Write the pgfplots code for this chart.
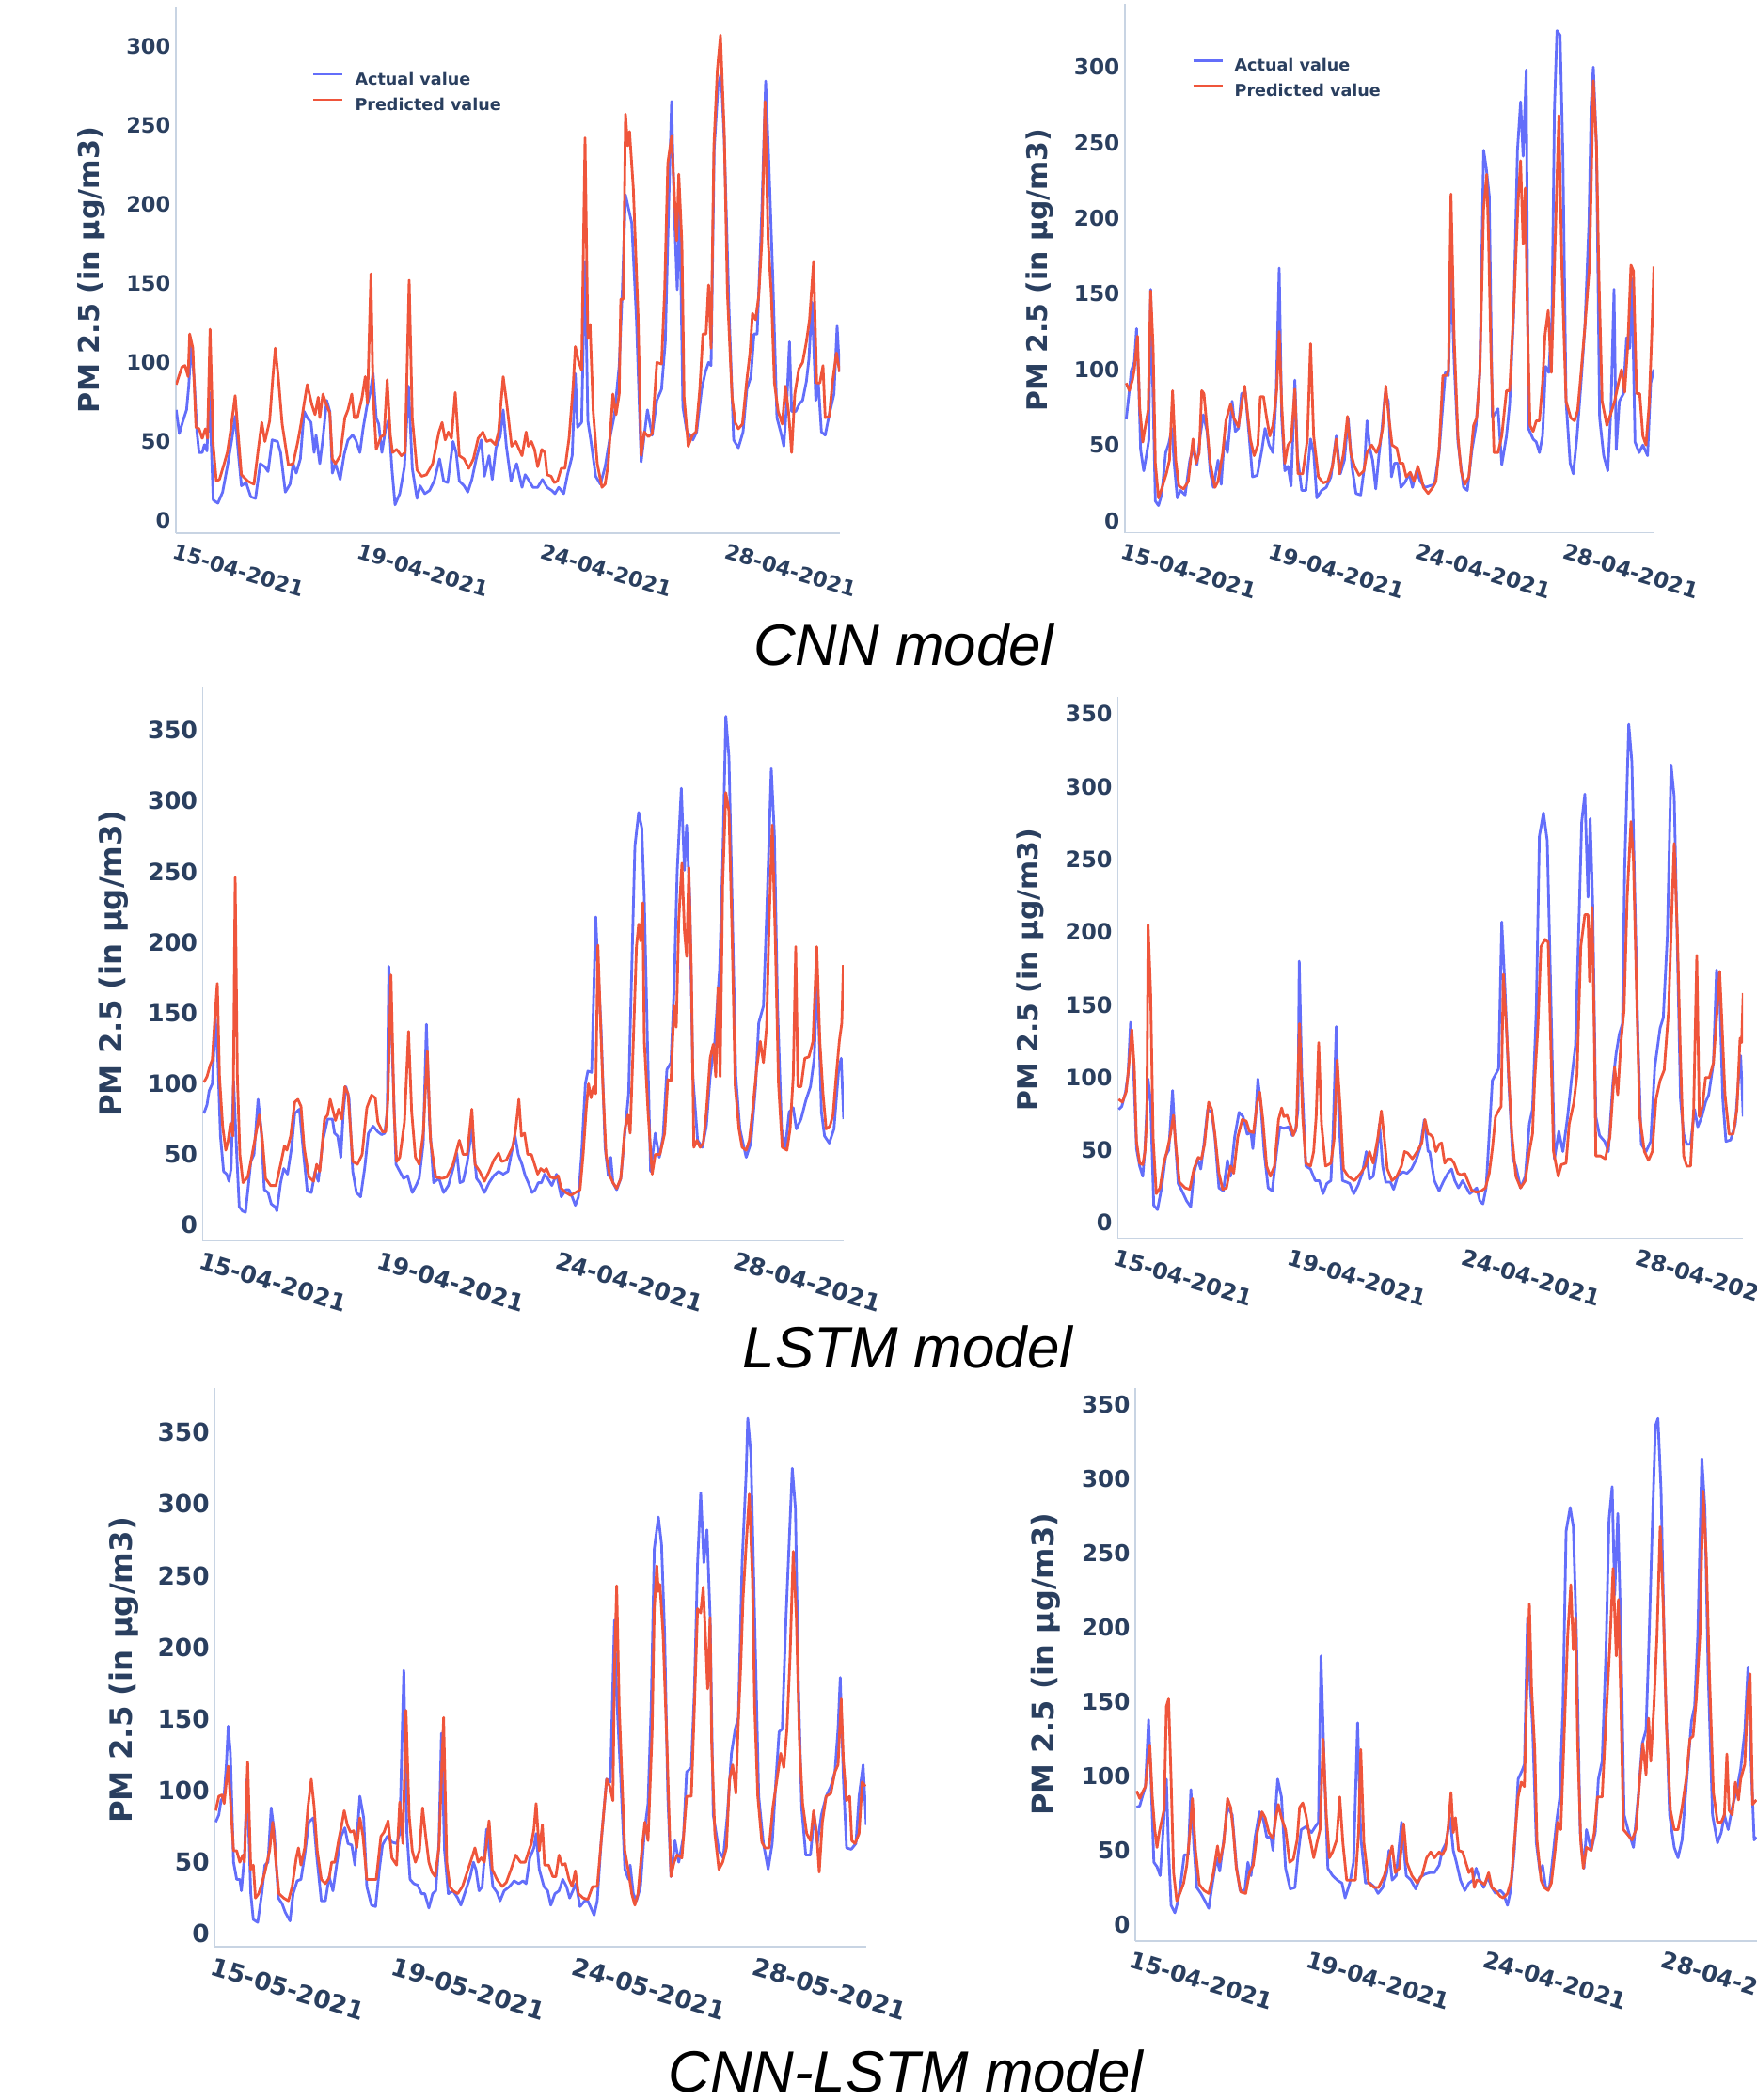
\documentclass[border=0pt]{standalone}
\usepackage{fontspec}
\setmainfont{DejaVu Sans}
\newfontfamily\titlefont{Liberation Sans}
\usepackage{pgfplots}
\pgfplotsset{compat=1.18}

\definecolor{cAct}{HTML}{636EFA}
\definecolor{cPred}{HTML}{EF553B}
\definecolor{axcol}{HTML}{C8D4E3}
\definecolor{txt}{HTML}{2A3F5F}

\pgfplotsset{
  act/.style={color=cAct, line width=0.8pt, line join=round},
  prd/.style={color=cPred, line width=0.8pt, line join=round},
  panel/.style={
    scale only axis, anchor=south west,
    axis x line*=bottom, axis y line*=left,
    axis line style={draw=axcol, line width=0.45pt},
    major tick length=0pt,
    ytick={0,50,...,350},
    /pgf/number format/assume math mode=true,
    tick label style={text=txt, font=\fontsize{#1pt}{#1pt}\selectfont\bfseries},
    xticklabel style={rotate=-17, anchor=north west, inner sep=0pt, yshift=-0.1cm},
    yticklabel style={anchor=east, inner sep=0pt, xshift=-0.05cm},
    legend cell align=left,
    legend image code/.code={\draw[##1, line width=0.6pt] (0cm,0.065cm) -- (0.31cm,0.065cm);},
  },
  lgd/.style={legend style={at={#1}, anchor=north west, draw=none, fill=none,
    inner sep=0pt, row sep=0.11cm, text=txt,
    font=\fontsize{5pt}{6pt}\selectfont\bfseries,
    nodes={inner sep=0pt, text height=0.13cm, text depth=0.03cm},
    /tikz/every odd column/.append style={column sep=0.12cm}}},
}
\newcommand{\ylab}[2]{\node[rotate=90, text=txt, font=\fontsize{#2pt}{#2pt}\selectfont\bfseries] at #1 {PM 2.5 (in µg/m3)};}
\newcommand{\ttl}[2]{\node[anchor=base, font=\fontsize{17.6pt}{20pt}\selectfont\titlefont\itshape] at #1 {#2};}

\begin{document}
\begin{tikzpicture}
\useasboundingbox (0,0) rectangle (18.68,22.33);
\clip (0,0) rectangle (18.68,22.33);

% ---------------- CNN, left
\begin{axis}[panel=6.4, at={(1.87cm,16.66cm)}, width=7.06cm, height=5.60cm,
  xmin=21, xmax=2139, ymin=-8, ymax=325,
  xtick={30,618,1203,1791}, xticklabels={15-04-2021,19-04-2021,24-04-2021,28-04-2021},
  lgd={(0.205,0.875)}]
\addplot[act] coordinates {(22,70) (32,55) (42,62) (55,70) (62,85) (70,112) (80,87) (88,56) (95,43) (105,43) (112,48) (120,44) (128,81) (140,13) (155,11) (170,18) (185,34) (200,52) (210,66) (220,43) (230,22) (245,24) (260,15) (275,14) (290,36) (305,34) (315,31) (328,51) (345,50) (355,43) (370,18) (385,23) (395,36) (405,30) (418,39) (430,69) (440,65) (452,62) (462,43) (468,54) (480,36) (490,52) (502,76) (512,69) (520,30) (530,36) (545,26) (558,42) (570,51) (585,54) (595,51) (608,43) (618,58) (630,72) (640,80) (650,93) (660,65) (668,61) (678,43) (690,58) (700,64) (710,33) (720,10) (735,17) (750,34) (763,85) (775,33) (790,14) (800,22) (815,17) (830,19) (845,25) (862,39) (875,25) (888,24) (905,50) (915,43) (925,25) (940,22) (952,18) (965,26) (980,40) (995,51) (1005,28) (1020,41) (1030,26) (1042,46) (1055,53) (1065,70) (1075,47) (1090,25) (1100,32) (1108,36) (1125,21) (1135,29) (1145,26) (1160,21) (1175,21) (1190,26) (1205,21) (1220,19) (1230,17) (1242,21) (1258,17) (1270,29) (1285,41) (1295,93) (1302,59) (1315,62) (1326,164) (1335,63) (1345,50) (1360,28) (1375,23) (1390,34) (1405,52) (1420,67) (1435,98) (1445,146) (1455,206) (1465,197) (1475,188) (1490,127) (1505,37) (1515,54) (1525,70) (1540,54) (1555,76) (1570,83) (1582,113) (1592,193) (1602,265) (1610,199) (1620,146) (1628,199) (1638,72) (1650,57) (1670,51) (1682,56) (1698,83) (1710,94) (1720,100) (1728,98) (1738,235) (1750,274) (1760,283) (1770,241) (1785,135) (1800,51) (1815,46) (1830,56) (1842,83) (1855,91) (1865,118) (1875,118) (1890,197) (1902,278) (1912,228) (1925,153) (1938,65) (1950,56) (1960,47) (1970,76) (1978,113) (1985,69) (1998,69) (2010,74) (2020,76) (2032,88) (2040,102) (2050,138) (2062,76) (2070,87) (2080,56) (2092,54) (2105,67) (2120,80) (2130,123) (2138,94)};
\addlegendentry{Actual value}
\addplot[prd] coordinates {(22,86) (40,97) (50,98) (60,91) (65,118) (75,109) (85,59) (95,58) (105,52) (115,58) (122,52) (130,121) (140,48) (150,25) (160,26) (175,36) (185,43) (195,56) (210,79) (220,54) (230,29) (250,25) (270,23) (285,47) (295,62) (305,50) (320,63) (330,90) (338,109) (348,90) (360,61) (380,35) (395,36) (410,50) (420,61) (430,74) (440,86) (455,73) (465,67) (475,78) (480,65) (490,80) (500,74) (512,68) (520,39) (530,36) (545,41) (560,65) (570,70) (582,80) (590,65) (600,65) (615,78) (625,91) (632,74) (643,156) (650,80) (660,45) (675,53) (685,54) (695,89) (705,54) (712,43) (725,45) (740,41) (752,43) (765,152) (775,65) (790,32) (805,28) (820,29) (840,36) (860,56) (870,62) (880,51) (890,56) (900,52) (912,81) (925,41) (940,39) (955,33) (970,39) (985,52) (1000,56) (1012,50) (1025,51) (1040,48) (1050,56) (1065,91) (1075,76) (1092,47) (1105,50) (1125,41) (1138,56) (1145,47) (1155,50) (1165,45) (1175,34) (1188,45) (1198,43) (1205,29) (1218,28) (1228,24) (1238,25) (1250,33) (1262,33) (1275,52) (1288,85) (1295,110) (1305,101) (1315,95) (1326,242) (1335,115) (1342,124) (1352,69) (1365,36) (1380,21) (1390,23) (1400,36) (1415,80) (1425,67) (1435,80) (1440,140) (1448,140) (1455,257) (1462,237) (1468,246) (1480,210) (1495,131) (1505,41) (1515,56) (1528,53) (1540,55) (1555,100) (1570,99) (1580,146) (1590,226) (1602,243) (1610,210) (1618,177) (1625,219) (1635,175) (1642,78) (1655,47) (1668,54) (1680,56) (1692,83) (1702,118) (1712,118) (1720,149) (1728,109) (1737,237) (1748,285) (1758,307) (1770,246) (1780,144) (1795,78) (1805,62) (1815,58) (1828,61) (1842,89) (1852,106) (1860,131) (1870,127) (1880,142) (1890,177) (1900,265) (1910,177) (1920,144) (1930,87) (1942,69) (1955,61) (1965,85) (1975,69) (1985,43) (1995,80) (2008,96) (2020,100) (2032,113) (2042,127) (2055,164) (2065,87) (2075,87) (2085,98) (2092,65) (2105,66) (2115,87) (2128,106) (2138,94)};
\addlegendentry{Predicted value}
\end{axis}

% ---------------- CNN, right
\begin{axis}[panel=6.6, at={(11.96cm,16.663cm)}, width=5.62cm, height=5.63cm,
  xmin=48, xmax=1734, ymin=-8.1, ymax=342,
  xtick={54,525,993,1464}, xticklabels={15-04-2021,19-04-2021,24-04-2021,28-04-2021},
  lgd={(0.126,0.896)}]
\addplot[act] coordinates {(52,67) (62,86) (68,99) (78,105) (85,127) (92,91) (98,47) (108,33) (118,45) (124,53) (130,153) (138,79) (145,13) (155,10) (165,17) (178,45) (188,51) (198,61) (205,38) (215,15) (225,20) (240,17) (255,40) (265,47) (278,37) (288,56) (298,70) (310,59) (320,32) (330,22) (345,40) (355,24) (365,54) (375,45) (380,56) (390,79) (400,59) (410,61) (420,84) (432,85) (445,54) (455,29) (470,30) (485,47) (495,61) (508,50) (520,45) (530,81) (540,167) (548,68) (558,33) (568,36) (578,23) (590,93) (598,43) (612,20) (625,20) (640,54) (650,45) (660,15) (675,20) (690,22) (705,29) (722,56) (735,31) (748,40) (760,68) (772,36) (785,18) (800,17) (812,36) (820,66) (830,47) (838,40) (848,21) (858,43) (868,61) (878,84) (888,79) (898,29) (908,38) (918,38) (928,22) (940,25) (955,31) (965,22) (978,33) (990,26) (1005,22) (1020,23) (1035,24) (1050,45) (1062,77) (1070,98) (1080,96) (1088,165) (1098,105) (1110,52) (1128,22) (1140,20) (1155,47) (1168,63) (1180,98) (1192,245) (1200,234) (1210,215) (1220,68) (1238,74) (1250,37) (1265,56) (1275,77) (1288,137) (1300,245) (1310,277) (1318,241) (1328,298) (1335,61) (1350,54) (1360,52) (1370,45) (1380,56) (1390,102) (1400,98) (1410,135) (1418,273) (1426,324) (1436,321) (1445,241) (1455,79) (1468,38) (1478,31) (1490,56) (1502,89) (1515,128) (1528,197) (1535,275) (1542,300) (1552,248) (1562,68) (1575,43) (1588,33) (1598,73) (1608,153) (1615,47) (1625,79) (1638,84) (1648,121) (1658,114) (1665,160) (1675,52) (1688,45) (1700,50) (1715,43) (1725,91) (1735,100)};
\addlegendentry{Actual value}
\addplot[prd] coordinates {(52,91) (62,86) (72,93) (78,100) (88,122) (95,75) (100,64) (105,52) (112,61) (122,73) (130,152) (138,114) (145,38) (155,15) (165,21) (180,31) (190,40) (200,86) (210,40) (220,23) (235,21) (250,26) (265,54) (275,38) (285,45) (293,86) (300,84) (310,61) (320,38) (335,22) (345,26) (360,45) (370,66) (385,77) (395,68) (410,62) (420,77) (430,89) (438,73) (448,54) (460,43) (472,50) (480,82) (490,82) (500,68) (510,56) (520,63) (532,86) (540,125) (548,77) (558,38) (568,50) (578,53) (590,87) (600,31) (615,31) (630,54) (640,117) (650,56) (665,29) (680,25) (695,26) (710,36) (722,54) (732,31) (745,44) (758,69) (768,45) (780,36) (795,30) (810,33) (820,45) (835,50) (850,45) (860,50) (870,61) (880,89) (890,68) (900,50) (915,48) (925,38) (935,38) (945,29) (958,32) (970,26) (982,36) (992,29) (1000,22) (1015,18) (1030,22) (1040,26) (1050,47) (1062,96) (1075,96) (1080,100) (1088,216) (1098,121) (1110,56) (1120,33) (1132,24) (1145,29) (1160,63) (1170,68) (1180,98) (1192,206) (1202,229) (1208,185) (1215,114) (1225,45) (1238,45) (1250,56) (1265,86) (1275,86) (1290,149) (1302,211) (1310,238) (1318,183) (1325,220) (1332,132) (1340,63) (1350,59) (1360,66) (1370,66) (1380,91) (1388,123) (1398,139) (1408,98) (1420,183) (1432,268) (1442,165) (1455,79) (1470,68) (1482,66) (1492,73) (1502,96) (1515,128) (1530,169) (1542,291) (1552,248) (1560,160) (1570,79) (1585,63) (1598,71) (1610,79) (1622,91) (1632,100) (1642,85) (1652,116) (1662,169) (1670,165) (1680,84) (1690,84) (1700,56) (1710,50) (1720,77) (1728,121) (1735,168)};
\addlegendentry{Predicted value}
\end{axis}

% ---------------- LSTM, left
\begin{axis}[panel=7.2, at={(2.157cm,9.133cm)}, width=6.813cm, height=5.897cm,
  xmin=32, xmax=2076, ymin=-11.3, ymax=381,
  xtick={39,606,1176,1743}, xticklabels={15-04-2021,19-04-2021,24-04-2021,28-04-2021}]
\addplot[act] coordinates {(35,79) (45,85) (52,95) (62,100) (72,146) (80,115) (88,63) (98,38) (108,36) (115,31) (122,40) (130,102) (140,50) (148,13) (158,10) (168,9) (178,30) (185,45) (195,50) (208,89) (218,68) (228,25) (240,23) (250,15) (262,13) (268,10) (280,30) (290,40) (302,36) (315,55) (325,79) (340,82) (352,53) (365,24) (378,23) (390,38) (400,31) (415,60) (430,75) (445,75) (452,65) (462,63) (472,48) (480,80) (488,98) (498,90) (510,38) (522,23) (535,20) (548,40) (560,65) (575,70) (590,66) (602,64) (612,65) (620,80) (625,183) (635,130) (648,43) (660,38) (672,33) (685,35) (700,23) (712,28) (722,33) (735,58) (745,142) (755,73) (768,30) (785,33) (800,23) (815,28) (830,40) (842,51) (852,30) (862,31) (875,44) (890,68) (905,33) (915,30) (930,23) (945,30) (960,35) (975,38) (990,36) (1005,38) (1020,55) (1028,63) (1038,50) (1050,43) (1060,35) (1070,30) (1082,23) (1092,25) (1102,30) (1112,30) (1122,36) (1132,33) (1145,28) (1160,36) (1175,20) (1190,25) (1200,25) (1210,20) (1220,14) (1230,20) (1240,50) (1252,100) (1260,109) (1272,108) (1285,218) (1292,183) (1302,140) (1315,55) (1325,35) (1333,48) (1340,30) (1352,25) (1365,33) (1378,65) (1390,93) (1400,181) (1410,268) (1422,292) (1432,281) (1440,231) (1450,130) (1460,38) (1475,65) (1488,48) (1500,63) (1512,110) (1525,115) (1535,168) (1545,251) (1558,309) (1568,251) (1575,283) (1585,231) (1595,105) (1610,60) (1625,55) (1638,70) (1650,105) (1665,130) (1680,181) (1690,256) (1700,360) (1710,331) (1720,231) (1732,105) (1745,68) (1765,48) (1780,58) (1795,98) (1805,143) (1820,155) (1830,218) (1845,323) (1855,276) (1865,155) (1878,68) (1890,55) (1902,80) (1915,83) (1925,68) (1940,75) (1955,88) (1970,98) (1982,118) (1992,176) (2005,80) (2015,63) (2030,58) (2045,68) (2060,110) (2068,118) (2076,75)};
\addplot[prd] coordinates {(35,101) (45,105) (55,113) (62,117) (70,146) (78,171) (85,105) (95,70) (105,53) (112,59) (120,72) (128,63) (135,246) (142,105) (150,50) (160,30) (175,34) (185,45) (200,63) (212,78) (222,60) (232,33) (248,28) (265,28) (280,43) (292,56) (300,53) (312,63) (325,87) (335,89) (345,84) (355,55) (370,34) (385,31) (395,43) (405,38) (420,75) (430,78) (438,89) (445,83) (455,74) (465,82) (475,75) (485,98) (495,93) (510,45) (525,43) (540,50) (555,83) (570,92) (582,90) (590,73) (605,66) (615,66) (622,88) (632,177) (642,80) (650,45) (660,48) (675,73) (688,137) (698,80) (710,48) (722,43) (735,65) (748,123) (758,60) (775,34) (795,33) (810,34) (830,43) (850,60) (862,50) (875,50) (890,82) (900,43) (915,38) (930,31) (945,38) (960,46) (975,51) (985,45) (1000,46) (1015,53) (1020,55) (1030,68) (1040,89) (1048,63) (1058,65) (1068,50) (1080,50) (1090,43) (1100,36) (1110,40) (1120,38) (1128,40) (1140,34) (1155,33) (1165,35) (1175,26) (1190,23) (1205,21) (1220,23) (1235,25) (1245,50) (1255,83) (1262,100) (1270,90) (1278,98) (1285,93) (1292,198) (1300,146) (1308,98) (1318,50) (1330,35) (1340,30) (1352,26) (1365,33) (1378,68) (1388,78) (1395,65) (1405,130) (1415,197) (1422,213) (1428,201) (1435,228) (1440,130) (1452,80) (1465,36) (1475,50) (1490,50) (1505,65) (1515,103) (1525,102) (1535,155) (1542,140) (1550,216) (1560,256) (1568,208) (1575,190) (1582,253) (1590,181) (1598,55) (1608,60) (1618,55) (1628,58) (1638,80) (1650,118) (1660,128) (1668,105) (1675,168) (1682,105) (1690,241) (1700,306) (1710,293) (1720,206) (1730,98) (1742,68) (1752,55) (1765,53) (1775,60) (1785,80) (1798,110) (1810,130) (1820,115) (1830,140) (1838,213) (1848,283) (1858,201) (1868,100) (1880,55) (1895,53) (1905,68) (1915,105) (1923,197) (1930,98) (1940,98) (1952,118) (1965,119) (1978,130) (1990,197) (2000,130) (2010,93) (2020,68) (2032,70) (2042,78) (2052,105) (2062,130) (2070,143) (2075,184)};
\end{axis}

% ---------------- LSTM, right
\begin{axis}[panel=6.8, at={(11.883cm,9.159cm)}, width=6.647cm, height=5.764cm,
  xmin=25, xmax=2019, ymin=-10.9, ymax=362,
  xtick={30,585,1140,1695}, xticklabels={15-04-2021,19-04-2021,24-04-2021,28-04-2021}]
\addplot[act] coordinates {(28,78) (38,80) (50,90) (58,102) (66,138) (75,110) (85,51) (95,39) (105,32) (112,51) (122,99) (130,83) (140,12) (152,9) (165,24) (178,46) (188,50) (200,91) (208,59) (218,27) (230,22) (245,15) (258,11) (268,34) (280,44) (290,37) (300,54) (312,78) (325,76) (335,59) (348,24) (362,22) (375,43) (385,32) (398,59) (412,76) (425,73) (438,61) (450,62) (456,51) (465,73) (472,99) (482,80) (492,49) (505,24) (518,22) (532,49) (542,66) (555,65) (570,66) (582,60) (592,63) (600,78) (604,180) (612,102) (625,39) (640,37) (655,29) (668,29) (680,20) (692,27) (705,29) (712,63) (722,135) (730,73) (742,29) (755,28) (765,27) (778,20) (792,26) (805,34) (818,49) (828,30) (840,32) (852,49) (860,68) (870,39) (880,28) (895,28) (905,23) (918,32) (935,35) (948,34) (962,37) (978,44) (990,52) (1003,71) (1015,49) (1020,49) (1035,29) (1050,22) (1065,29) (1078,34) (1090,37) (1100,29) (1112,24) (1125,29) (1138,24) (1148,20) (1160,22) (1170,24) (1180,15) (1190,13) (1200,24) (1210,61) (1220,98) (1230,102) (1240,106) (1250,207) (1260,163) (1272,98) (1285,44) (1295,39) (1310,24) (1325,32) (1338,68) (1348,78) (1360,146) (1370,266) (1383,282) (1395,263) (1405,171) (1418,44) (1432,63) (1445,49) (1460,73) (1472,98) (1485,122) (1505,276) (1515,295) (1525,224) (1532,278) (1540,220) (1550,73) (1562,60) (1578,56) (1590,49) (1605,98) (1615,117) (1625,130) (1635,137) (1642,244) (1655,343) (1665,317) (1675,220) (1685,122) (1695,54) (1710,49) (1725,56) (1738,107) (1755,134) (1765,141) (1778,197) (1790,315) (1800,293) (1810,190) (1820,85) (1830,61) (1840,54) (1852,54) (1865,78) (1875,66) (1888,73) (1900,83) (1910,88) (1925,110) (1935,174) (1945,156) (1955,85) (1965,56) (1980,57) (1995,68) (2005,98) (2012,115) (2020,73)};
\addplot[prd] coordinates {(28,85) (40,83) (52,90) (60,107) (70,133) (78,107) (85,56) (95,41) (105,40) (112,49) (118,73) (122,205) (130,159) (138,59) (148,20) (160,24) (172,41) (182,49) (192,59) (203,74) (210,54) (222,28) (240,24) (255,23) (268,37) (282,45) (292,44) (302,54) (315,83) (325,78) (335,61) (348,34) (360,23) (372,24) (385,39) (395,34) (408,59) (422,71) (435,70) (445,63) (458,62) (470,83) (478,90) (488,71) (500,39) (512,32) (525,39) (538,71) (548,79) (555,73) (565,74) (578,66) (585,60) (595,66) (605,137) (615,73) (625,41) (640,39) (650,49) (658,73) (666,124) (675,68) (688,39) (705,41) (715,57) (725,112) (735,78) (745,37) (760,32) (780,29) (800,34) (815,39) (828,49) (840,41) (855,59) (866,77) (875,59) (885,37) (900,29) (915,32) (930,39) (940,49) (950,48) (965,44) (980,49) (995,55) (1005,71) (1015,61) (1020,61) (1030,59) (1040,49) (1050,54) (1058,55) (1068,41) (1078,44) (1088,44) (1098,41) (1110,34) (1120,33) (1132,34) (1145,27) (1155,22) (1170,21) (1185,22) (1198,24) (1210,34) (1220,51) (1230,73) (1242,78) (1248,80) (1255,171) (1265,134) (1272,102) (1282,61) (1295,32) (1310,24) (1325,29) (1338,49) (1348,61) (1355,98) (1365,134) (1375,190) (1388,195) (1398,193) (1405,134) (1415,49) (1430,32) (1440,40) (1455,41) (1465,68) (1480,83) (1490,102) (1502,190) (1515,212) (1525,212) (1530,166) (1538,217) (1545,132) (1550,46) (1565,46) (1580,44) (1595,59) (1610,107) (1620,88) (1630,124) (1640,146) (1650,224) (1662,276) (1670,249) (1680,158) (1690,73) (1705,49) (1718,43) (1730,49) (1742,85) (1755,98) (1768,105) (1782,146) (1792,212) (1800,261) (1810,199) (1820,114) (1830,46) (1840,39) (1852,39) (1862,78) (1872,184) (1880,73) (1890,80) (1900,100) (1912,100) (1925,110) (1938,149) (1945,173) (1952,139) (1962,88) (1975,61) (1988,61) (2000,78) (2010,127) (2015,124) (2020,158)};
\end{axis}

% ---------------- CNN-LSTM, left
\begin{axis}[panel=7.5, at={(2.283cm,1.63cm)}, width=6.927cm, height=5.94cm,
  xmin=25, xmax=2103, ymin=-9, ymax=381,
  xtick={32,609,1185,1761}, xticklabels={15-05-2021,19-05-2021,24-05-2021,28-05-2021}]
\addplot[act] coordinates {(28,78) (38,83) (45,93) (55,97) (62,118) (68,145) (75,126) (85,50) (95,38) (105,38) (110,30) (120,55) (128,108) (140,28) (148,10) (162,8) (175,28) (185,48) (195,50) (205,88) (215,71) (228,25) (240,21) (250,15) (265,9) (275,28) (288,37) (300,38) (312,55) (325,78) (340,81) (350,55) (365,23) (378,23) (390,40) (402,30) (415,50) (428,68) (440,74) (450,63) (462,62) (472,48) (488,96) (500,81) (510,33) (525,20) (538,19) (550,45) (560,62) (575,68) (590,64) (605,63) (615,70) (622,133) (628,184) (638,70) (648,38) (660,35) (672,34) (685,28) (695,28) (708,18) (720,28) (730,30) (740,63) (748,140) (758,58) (770,28) (785,30) (800,25) (810,20) (825,30) (840,40) (850,50) (858,45) (868,30) (878,33) (892,73) (900,58) (912,33) (925,29) (935,23) (948,30) (965,33) (980,37) (995,35) (1008,37) (1018,35) (1030,53) (1043,60) (1050,70) (1060,45) (1075,33) (1087,30) (1097,20) (1110,28) (1123,30) (1135,38) (1147,33) (1157,25) (1167,30) (1177,35) (1190,19) (1205,23) (1215,23) (1225,18) (1235,13) (1245,23) (1257,63) (1275,108) (1287,106) (1300,219) (1307,166) (1320,108) (1333,45) (1345,38) (1350,48) (1360,28) (1370,23) (1383,33) (1395,70) (1407,91) (1417,159) (1427,269) (1440,291) (1450,272) (1460,209) (1470,96) (1480,40) (1493,65) (1505,50) (1520,68) (1530,113) (1545,116) (1555,171) (1565,259) (1575,308) (1585,259) (1595,282) (1605,221) (1615,83) (1633,58) (1647,53) (1660,83) (1673,126) (1685,143) (1695,151) (1707,259) (1720,322) (1725,360) (1735,335) (1747,221) (1760,96) (1775,63) (1790,45) (1803,63) (1815,108) (1825,141) (1835,143) (1847,221) (1867,325) (1877,297) (1887,171) (1897,88) (1910,55) (1925,55) (1937,83) (1947,63) (1960,83) (1975,96) (1990,103) (2003,113) (2013,143) (2020,179) (2030,108) (2040,60) (2055,59) (2070,63) (2080,96) (2093,118) (2103,76)};
\addplot[prd] coordinates {(28,86) (38,96) (48,97) (55,91) (62,106) (68,117) (78,83) (85,58) (95,58) (105,50) (115,55) (120,50) (130,120) (140,45) (148,48) (155,25) (165,28) (175,35) (185,43) (200,58) (210,78) (220,50) (230,28) (245,25) (260,23) (272,33) (285,53) (292,60) (300,48) (312,60) (322,88) (333,108) (342,89) (352,58) (365,38) (378,35) (390,39) (398,50) (408,50) (420,65) (430,76) (438,86) (448,76) (458,71) (468,72) (478,60) (488,81) (498,68) (510,38) (525,38) (540,38) (555,68) (565,71) (578,79) (590,53) (605,48) (615,92) (625,63) (635,156) (645,83) (655,58) (665,50) (678,58) (688,88) (698,68) (708,50) (718,43) (728,40) (740,60) (755,151) (765,50) (775,33) (785,30) (800,28) (815,33) (830,43) (845,53) (855,60) (865,50) (875,53) (885,50) (900,79) (910,45) (925,38) (942,33) (955,36) (970,45) (985,55) (1000,50) (1015,50) (1030,60) (1035,63) (1043,73) (1050,91) (1060,58) (1070,76) (1077,48) (1090,48) (1103,40) (1113,40) (1123,55) (1133,48) (1143,49) (1155,38) (1165,33) (1175,44) (1185,28) (1200,25) (1215,24) (1230,33) (1245,33) (1255,58) (1265,83) (1275,108) (1285,103) (1295,93) (1300,184) (1307,243) (1315,159) (1323,113) (1333,58) (1345,43) (1355,28) (1365,20) (1375,28) (1387,58) (1397,78) (1407,65) (1420,141) (1427,227) (1435,257) (1440,239) (1445,244) (1455,209) (1467,133) (1480,40) (1490,50) (1500,55) (1515,53) (1530,96) (1545,96) (1555,159) (1565,227) (1575,224) (1583,242) (1590,209) (1597,171) (1605,221) (1610,133) (1620,70) (1633,45) (1645,50) (1657,60) (1667,108) (1677,118) (1687,98) (1695,148) (1703,189) (1710,234) (1720,272) (1730,307) (1740,247) (1747,159) (1757,96) (1770,64) (1780,60) (1793,60) (1805,88) (1817,106) (1830,126) (1840,116) (1850,143) (1860,194) (1870,267) (1880,221) (1890,133) (1900,91) (1913,70) (1925,65) (1935,86) (1945,70) (1953,43) (1963,78) (1975,96) (1990,98) (2003,113) (2013,118) (2023,164) (2030,121) (2040,93) (2050,96) (2057,65) (2067,63) (2080,70) (2090,106) (2100,103)};
\end{axis}

% ---------------- CNN-LSTM, right
\begin{axis}[panel=7.0, at={(12.071cm,1.691cm)}, width=6.779cm, height=5.882cm,
  xmin=36, xmax=2070, ymin=-11, ymax=361.6,
  xtick={37,601,1165,1733}, xticklabels={15-04-2021,19-04-2021,24-04-2021,28-04-2021}]
\addplot[act] coordinates {(40,79) (50,80) (58,86) (68,93) (78,138) (85,103) (95,42) (105,39) (115,33) (122,55) (135,98) (142,50) (150,13) (162,8) (172,16) (182,30) (192,47) (205,47) (213,91) (222,55) (232,25) (245,21) (258,16) (270,11) (282,28) (295,45) (305,36) (315,52) (330,79) (345,74) (358,40) (370,23) (385,23) (395,42) (405,33) (418,59) (432,76) (445,70) (455,59) (468,59) (475,50) (482,74) (490,98) (502,86) (515,38) (530,24) (545,25) (555,47) (565,64) (580,66) (598,62) (610,66) (620,69) (628,181) (638,110) (650,38) (665,33) (680,30) (695,28) (705,18) (720,28) (732,42) (745,136) (755,59) (770,28) (785,28) (800,25) (810,21) (825,25) (838,35) (845,50) (855,30) (868,33) (885,69) (900,33) (915,30) (930,24) (945,32) (960,34) (975,35) (990,35) (1005,40) (1015,50) (1027,55) (1040,72) (1050,50) (1060,42) (1073,30) (1087,23) (1100,28) (1113,30) (1123,38) (1135,30) (1147,25) (1160,32) (1173,25) (1185,21) (1200,23) (1210,21) (1223,13) (1233,23) (1245,50) (1257,98) (1270,104) (1277,108) (1287,207) (1295,163) (1303,134) (1315,55) (1327,35) (1335,40) (1345,25) (1357,25) (1370,50) (1380,70) (1390,86) (1400,147) (1410,265) (1423,281) (1433,268) (1443,195) (1455,62) (1467,38) (1475,64) (1490,50) (1503,62) (1513,98) (1525,110) (1537,183) (1547,273) (1557,295) (1565,222) (1575,277) (1585,195) (1595,74) (1610,62) (1625,52) (1640,86) (1653,122) (1665,131) (1675,195) (1685,268) (1695,336) (1703,341) (1713,292) (1725,171) (1740,74) (1755,52) (1767,45) (1780,57) (1795,98) (1810,137) (1820,147) (1830,195) (1843,314) (1853,280) (1863,171) (1877,74) (1893,55) (1905,62) (1915,74) (1927,64) (1940,79) (1955,91) (1967,105) (1980,130) (1990,173) (2000,110) (2010,57) (2017,59)};
\addplot[prd] coordinates {(40,90) (50,85) (58,89) (68,93) (75,108) (82,121) (90,86) (98,64) (105,52) (112,62) (120,70) (128,78) (135,147) (142,152) (150,98) (158,35) (168,16) (178,21) (190,28) (200,40) (210,62) (218,85) (228,50) (240,27) (255,23) (270,21) (285,35) (298,53) (305,42) (318,55) (330,85) (340,79) (348,64) (358,38) (372,22) (388,21) (400,35) (412,40) (425,62) (440,76) (450,72) (462,62) (475,58) (485,73) (492,81) (502,72) (515,64) (528,42) (540,44) (552,57) (560,79) (570,82) (580,74) (592,59) (605,45) (615,55) (625,64) (635,125) (645,74) (655,45) (665,49) (678,57) (688,86) (698,55) (710,30) (725,30) (738,30) (748,62) (755,118) (765,55) (780,28) (798,25) (812,25) (830,33) (845,45) (855,53) (865,35) (878,38) (892,68) (902,42) (918,33) (935,28) (950,33) (965,45) (978,49) (990,45) (1005,49) (1015,47) (1025,51) (1033,64) (1043,89) (1050,62) (1057,72) (1067,50) (1080,49) (1090,42) (1100,35) (1110,38) (1117,25) (1125,30) (1137,29) (1150,27) (1163,35) (1173,25) (1185,23) (1200,19) (1210,18) (1223,21) (1235,30) (1245,55) (1257,86) (1267,96) (1277,93) (1285,159) (1293,216) (1300,159) (1310,118) (1317,57) (1330,30) (1340,25) (1353,23) (1363,28) (1375,50) (1383,69) (1393,64) (1403,122) (1415,195) (1425,229) (1433,185) (1440,207) (1447,122) (1457,55) (1465,38) (1475,52) (1490,50) (1500,62) (1510,86) (1525,86) (1537,137) (1550,190) (1560,240) (1570,181) (1577,219) (1585,147) (1593,64) (1605,61) (1620,57) (1633,64) (1645,98) (1655,122) (1665,101) (1673,139) (1680,110) (1690,147) (1700,195) (1710,268) (1720,214) (1730,134) (1743,77) (1755,64) (1767,64) (1780,79) (1793,98) (1805,125) (1815,127) (1825,151) (1837,195) (1847,292) (1857,249) (1867,171) (1880,89) (1893,69) (1905,69) (1915,74) (1923,115) (1930,77) (1940,74) (1950,96) (1960,84) (1967,98) (1980,108) (1990,156) (1997,169) (2005,81) (2017,84)};
\end{axis}

\ylab{(0.97,19.46)}{8.6}
\ylab{(11.05,19.46)}{8.5}
\ylab{(1.21,12.08)}{9.2}
\ylab{(10.95,12.02)}{8.5}
\ylab{(1.32,4.57)}{9.2}
\ylab{(11.12,4.63)}{9.1}

\ttl{(9.61,15.254)}{CNN model}
\ttl{(9.65,7.78)}{LSTM model}
\ttl{(9.63,0.08)}{CNN-LSTM model}
\end{tikzpicture}
\end{document}
